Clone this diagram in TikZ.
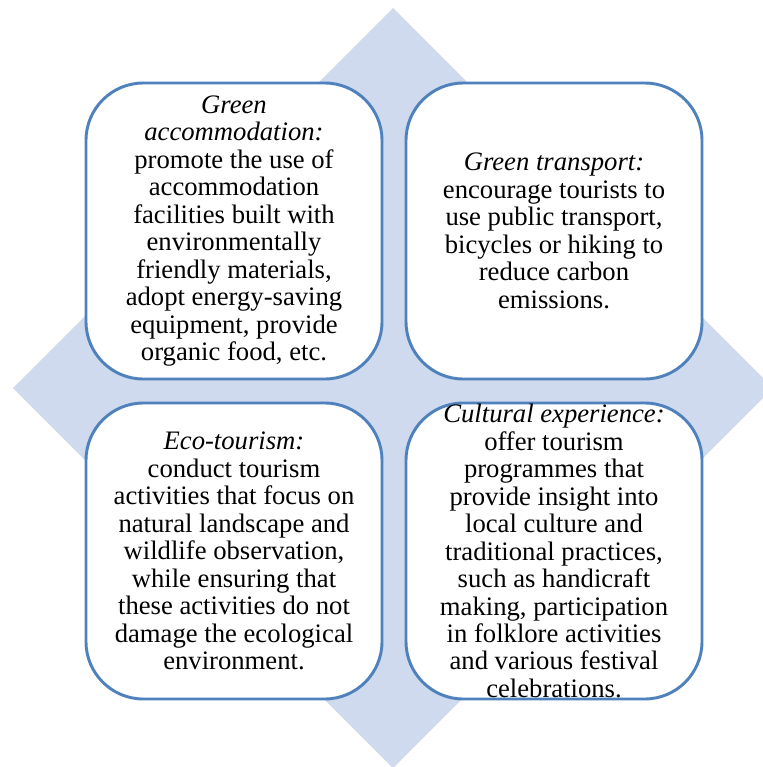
\documentclass[tikz,border=0pt]{standalone}
\usepackage{fontspec}
\setmainfont{Liberation Serif}
\usepackage{tikz}
\definecolor{diamondblue}{RGB}{207,218,238}
\definecolor{cardline}{RGB}{79,129,189}
\begin{document}
\begin{tikzpicture}[x=0.75pt,y=-0.75pt]
\tikzstyle{every node}=[font=\fontsize{20}{20.6}\selectfont]
\tikzstyle{card}=[draw=cardline, line width=2.2pt, fill=white, rounded corners=43pt, minimum width=222pt, minimum height=222pt, inner sep=0pt]
\tikzstyle{cardtext}=[align=center, inner sep=0pt]
\useasboundingbox (0,0) rectangle (763,767);
\clip (0,0) rectangle (763,767);
\fill [diamondblue] (393,8) -- (773,388) -- (393,768) -- (13,388) -- cycle;
\node (accommodation) [card] at (234,231) {};
\node (transport) [card] at (554,231) {};
\node (ecotourism) [card] at (234,551) {};
\node (culture) [card] at (554,551) {};
\node [cardtext] at (accommodation) {\textit{Green}\\ \textit{accommodation:}\\ promote the use of\\ accommodation\\ facilities built with\\ environmentally\\ friendly materials,\\ adopt energy-saving\\ equipment, provide\\ organic food, etc.};
\node [cardtext] at (transport) {\textit{Green transport:}\\ encourage tourists to\\ use public transport,\\ bicycles or hiking to\\ reduce carbon\\ emissions.};
\node [cardtext] at (ecotourism) {\textit{Eco-tourism:}\\ conduct tourism\\ activities that focus on\\ natural landscape and\\ wildlife observation,\\ while ensuring that\\ these activities do not\\ damage the ecological\\ environment.};
\node [cardtext] at (culture) {\textit{Cultural experience:}\\ offer tourism\\ programmes that\\ provide insight into\\ local culture and\\ traditional practices,\\ such as handicraft\\ making, participation\\ in folklore activities\\ and various festival\\ celebrations.};
\end{tikzpicture}
\end{document}
